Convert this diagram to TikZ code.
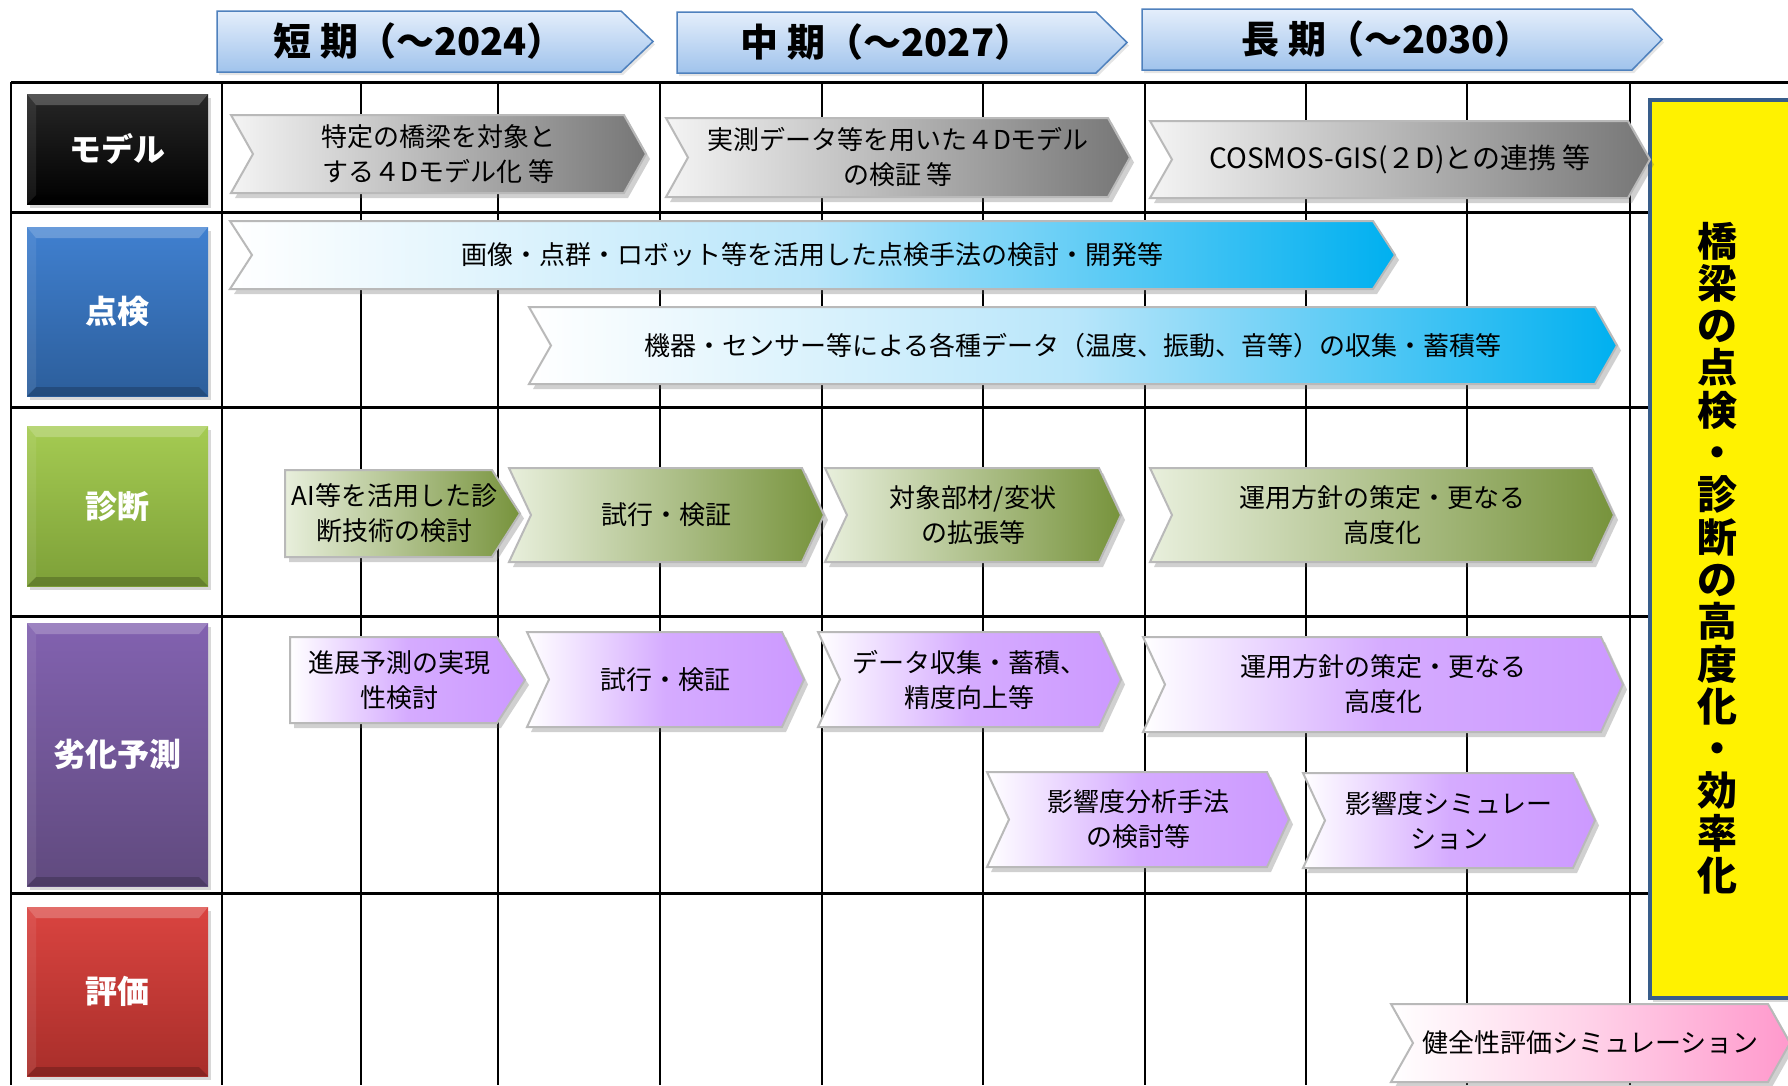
\documentclass[tikz,border=0pt]{standalone}
\usepackage{fontspec}
\setmainfont{Noto Sans CJK JP}
\usetikzlibrary{shadows}
\definecolor{hdrtop}{RGB}{228,238,251}
\definecolor{hdrbot}{RGB}{160,195,236}
\definecolor{hdrbd}{RGB}{79,129,189}
\definecolor{gryL}{RGB}{244,244,244}
\definecolor{gryR}{RGB}{118,118,118}
\definecolor{bluM}{RGB}{185,230,250}
\definecolor{bluR}{RGB}{0,176,240}
\definecolor{grnL}{RGB}{232,239,220}
\definecolor{grnR}{RGB}{119,147,60}
\definecolor{purR}{RGB}{204,153,255}
\definecolor{pnkR}{RGB}{255,153,204}
\definecolor{chevbd}{RGB}{185,185,185}
\definecolor{goalbd}{RGB}{56,93,138}
\definecolor{blueT}{RGB}{64,128,208}
\definecolor{blueB}{RGB}{44,94,155}
\definecolor{grnT}{RGB}{165,203,82}
\definecolor{grnB}{RGB}{125,160,56}
\definecolor{purT}{RGB}{130,98,176}
\definecolor{purB}{RGB}{96,74,126}
\definecolor{redT}{RGB}{218,68,64}
\definecolor{redB}{RGB}{168,46,42}
\newcommand{\mychev}[7]{%
  \path[chevbase,#1] (#3,#5) -- ({#4-22},#5) -- (#4,{(#5+#6)/2}) -- ({#4-22},#6) -- (#3,#6) -- ({#3+22},{(#5+#6)/2}) -- cycle;
  \node[chevtext] (#2) at ({(#3+#4)/2},{(#5+#6)/2}) {#7};}
\newcommand{\mychevflat}[7]{%
  \path[chevbase,#1] (#3,#5) -- ({#4-28},#5) -- (#4,{(#5+#6)/2}) -- ({#4-28},#6) -- (#3,#6) -- cycle;
  \node[chevtext] (#2) at ({(#3+#4)/2-8},{(#5+#6)/2}) {#7};}
\newcommand{\myhdr}[7]{%
  \path[hdrbox] (#2,#5) -- (#3,#5) -- (#4,{(#5+#6)/2}) -- (#3,#6) -- (#2,#6) -- cycle;
  \node[hdrtext] (#1) at ({(#2+#3)/2},{(#5+#6)/2}) {#7};}
\newcommand{\myrow}[6]{%
  \path[rowbox, top color=#4, bottom color=#5] (27,#2) rectangle (208,#3);
  \fill[white,opacity=0.22] (27,#2) -- (208,#2) -- (199,{#2+11}) -- (36,{#2+11}) -- cycle;
  \fill[black,opacity=0.2] (27,#3) -- (208,#3) -- (199,{#3-9}) -- (36,{#3-9}) -- cycle;
  \fill[white,opacity=0.08] (27,#2) -- (36,{#2+11}) -- (36,{#3-9}) -- (27,#3) -- cycle;
  \node[rowtext] (#1) at (117.5,{(#2+#3)/2}) {#6};}
\begin{document}
\begin{tikzpicture}[x=1pt,y=-1pt,
  tbl/.style={line width=2.5pt, black},
  hln/.style={line width=3pt, black},
  chevbase/.style={draw=chevbd, line width=2pt, drop shadow={opacity=0.3, shadow xshift=4pt, shadow yshift=-5pt, fill=black!60}},
  hdrbox/.style={draw=hdrbd, line width=1.5pt, top color=hdrtop, bottom color=hdrbot, drop shadow={opacity=0.2, shadow xshift=2pt, shadow yshift=-3pt}},
  hdrtext/.style={font=\fontsize{38}{42}\selectfont\bfseries, inner sep=0},
  chevtext/.style={font=\fontsize{26}{35}\selectfont, align=center, inner sep=0, text=black},
  rowtext/.style={font=\fontsize{32}{36}\selectfont\bfseries, text=white},
  rowbox/.style={drop shadow={opacity=0.3, shadow xshift=3pt, shadow yshift=-4pt}},
  goalbox/.style={fill=yellow, draw=goalbd, line width=4pt, drop shadow={opacity=0.3, shadow xshift=3pt, shadow yshift=-4pt}},
  goaltext/.style={font=\fontsize{40}{42.3}\selectfont\bfseries, align=center, inner sep=0},
  cgray/.style={left color=gryL, right color=gryR},
  cblue/.style={left color=white, right color=bluR, middle color=bluM},
  cgreen/.style={left color=grnL, right color=grnR},
  cpurple/.style={left color=white, right color=purR, middle color=purR!82!white},
  cpink/.style={left color=white, right color=pnkR, middle color=pnkR!45!white}]
\useasboundingbox (0,0) rectangle (1788,1085);
\clip (0,0) rectangle (1788,1085);
\fill[white] (0,0) rectangle (1788,1085);
% table grid
\draw[hln] (11,82) -- (1788,82);
\foreach \yy in {212,407,616,893} \draw[hln] (11,\yy) -- (1650,\yy);
\foreach \xx in {11,222,361,498,660,822,983,1145,1306,1467,1630} \draw[tbl] (\xx,82) -- (\xx,1085);
% goal box
\path[goalbox] (1650,100) rectangle (1800,998);
\node[goaltext] (goal) at (1717,558) {橋\\梁\\の\\点\\検\\・\\診\\断\\の\\高\\度\\化\\・\\効\\率\\化};
% headers
\myhdr{h1}{217}{621}{653}{11}{72}{短 期（～2024）}
\myhdr{h2}{677}{1096}{1127}{12}{73}{中 期（～2027）}
\myhdr{h3}{1142}{1632}{1662}{9}{70}{長 期（～2030）}
% row labels
\myrow{lmodel}{94}{204}{black!85}{black}{モデル}
\myrow{linsp}{227}{396}{blueT}{blueB}{点検}
\myrow{ldiag}{426}{586}{grnT}{grnB}{診断}
\myrow{lpred}{623}{886}{purT}{purB}{劣化予測}
\myrow{leval}{907}{1076}{redT}{redB}{評価}
% chevrons
\mychev{cgray}{m1}{231}{646}{115}{193}{特定の橋梁を対象と\\する４Dモデル化 等}
\mychev{cgray}{m2}{666}{1130}{118}{197}{実測データ等を用いた４Dモデル\\の検証 等}
\mychev{cgray}{m3}{1150}{1650}{121}{198}{\fontsize{28}{35}\selectfont COSMOS-GIS(２D)との連携 等}
\mychev{cblue}{i1}{230}{1395}{221}{289}{画像・点群・ロボット等を活用した点検手法の検討・開発等}
\mychev{cblue}{i2}{529}{1617}{307}{384}{機器・センサー等による各種データ（温度、振動、音等）の収集・蓄積等}
\mychevflat{cgreen}{d1}{285}{520}{470}{557}{AI等を活用した診\\断技術の検討}
\mychev{cgreen}{d2}{509}{824}{468}{562}{試行・検証}
\mychev{cgreen}{d3}{825}{1121}{468}{562}{対象部材/変状\\の拡張等}
\mychev{cgreen}{d4}{1150}{1614}{468}{562}{運用方針の策定・更なる\\高度化}
\mychevflat{cpurple}{p1}{290}{525}{637}{723}{進展予測の実現\\性検討}
\mychev{cpurple}{p2}{527}{804}{632}{727}{試行・検証}
\mychev{cpurple}{p3}{818}{1121}{632}{727}{データ収集・蓄積、\\精度向上等}
\mychev{cpurple}{p4}{1143}{1623}{637}{732}{運用方針の策定・更なる\\高度化}
\mychev{cpurple}{p5}{987}{1289}{772}{867}{影響度分析手法\\の検討等}
\mychev{cpurple}{p6}{1303}{1595}{773}{868}{影響度シミュレー\\ション}
\mychev{cpink}{e1}{1391}{1790}{1004}{1082}{健全性評価シミュレーション}
\end{tikzpicture}
\end{document}
